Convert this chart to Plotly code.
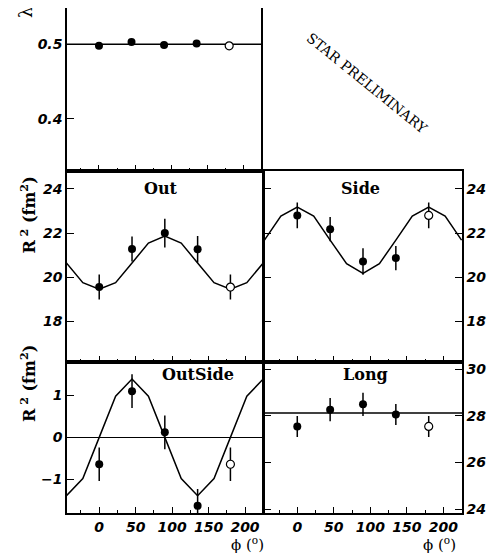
import plotly.graph_objects as go

# ---- data ----
phi = [0, 45, 90, 135]
phi_open = [180]

lam_vals = [0.498, 0.503, 0.499, 0.501]
lam_err = [0.002, 0.002, 0.002, 0.002]
lam_open = [0.498]
lam_open_err = [0.002]
lam_fit_x = [-45, 225]
lam_fit_y = [0.500, 0.500]

out_vals = [19.56, 21.28, 22.0, 21.27]
out_err = [0.57, 0.57, 0.65, 0.6]
out_open = [19.56]
out_open_err = [0.57]

side_vals = [22.8, 22.18, 20.72, 20.87]
side_err = [0.58, 0.55, 0.6, 0.55]
side_open = [22.8]
side_open_err = [0.58]

os_vals = [-0.64, 1.1, 0.12, -1.63]
os_err = [0.4, 0.4, 0.4, 0.4]
os_open = [-0.64]
os_open_err = [0.4]

long_vals = [27.55, 28.27, 28.5, 28.06]
long_err = [0.45, 0.5, 0.5, 0.45]
long_open = [27.55]
long_open_err = [0.45]
long_fit_x = [-50, 230]
long_fit_y = [28.13, 28.13]

fit_phi = [-45, -22.5, 0, 22.5, 45, 67.5, 90, 112.5, 135, 157.5, 180, 202.5, 225]
out_fit = [20.65, 19.76, 19.46, 19.76, 20.65, 21.55, 21.87, 21.55, 20.65, 19.76, 19.46, 19.76, 20.65]
side_fit = [21.68, 22.77, 23.18, 22.77, 21.68, 20.62, 20.18, 20.62, 21.68, 22.77, 23.18, 22.77, 21.68]
os_fit = [-1.39, -0.98, 0.0, 0.98, 1.39, 0.98, 0.0, -0.98, -1.39, -0.98, 0.0, 0.98, 1.39]

x_ticks = [0, 50, 100, 150, 200]

fig = go.Figure()

def add_panel(n, vals, err, oval, oerr, fx, fy):
    xa = "x" if n == 1 else f"x{n}"
    ya = "y" if n == 1 else f"y{n}"
    fig.add_trace(go.Scatter(x=fx, y=fy, mode="lines", xaxis=xa, yaxis=ya,
                             line=dict(color="black", width=1.5), showlegend=False,
                             hoverinfo="skip"))
    fig.add_trace(go.Scatter(x=phi, y=vals, mode="markers", xaxis=xa, yaxis=ya,
                             marker=dict(color="black", size=8),
                             error_y=dict(type="data", array=err, color="black",
                                          thickness=1.5, width=0),
                             showlegend=False))
    fig.add_trace(go.Scatter(x=phi_open, y=oval, mode="markers", xaxis=xa, yaxis=ya,
                             marker=dict(color="white", size=8,
                                         line=dict(color="black", width=1.2)),
                             error_y=dict(type="data", array=oerr, color="black",
                                          thickness=1.5, width=0),
                             showlegend=False))

add_panel(1, lam_vals, lam_err, lam_open, lam_open_err, lam_fit_x, lam_fit_y)
add_panel(2, out_vals, out_err, out_open, out_open_err, fit_phi, out_fit)
add_panel(3, side_vals, side_err, side_open, side_open_err, fit_phi, side_fit)
add_panel(4, os_vals, os_err, os_open, os_open_err, fit_phi, os_fit)
add_panel(5, long_vals, long_err, long_open, long_open_err, long_fit_x, long_fit_y)

tickfont = dict(family="DejaVu Sans", size=14, color="black", weight="bold", style="italic")

def xaxis(domain, rng, labels, anchor, mirror=True):
    return dict(domain=domain, range=rng, anchor=anchor, showline=True, linecolor="black",
                linewidth=1.5, mirror=mirror, ticks="inside", tickvals=x_ticks, ticklen=6,
                tickwidth=1.2, tickcolor="black", showticklabels=labels, tickfont=tickfont,
                showgrid=False, zeroline=False,
                minor=dict(ticks="inside", dtick=25, tick0=0, ticklen=3, tickwidth=1.2,
                           tickcolor="black", showgrid=False))

def yaxis(domain, rng, dtick, side, mirror, anchor):
    return dict(domain=domain, range=rng, dtick=dtick, side=side, anchor=anchor,
                showline=True, linecolor="black", linewidth=1.5, mirror=mirror,
                ticks="inside", ticklen=7, tickwidth=1.2, tickcolor="black",
                tickfont=tickfont, showgrid=False, zeroline=False)

L = [0, 0.4962]
R = [0.4987, 1]
TOP = [0.6772, 1]
MID = [0.3, 0.6772]
BOT = [0, 0.3]
xl = [-44.2, 224.7]
xr = [-45.6, 225.6]

fig.update_layout(
    width=491, height=546,
    margin=dict(l=59, r=37, t=0, b=41),
    paper_bgcolor="white", plot_bgcolor="white",
    xaxis=xaxis([0, 0.4924], xl, False, "y", mirror=False),
    yaxis=yaxis(TOP, [0.3297, 0.5488], 0.1, "left", True, "x"),
    xaxis2=xaxis(L, xl, False, "y2"),
    yaxis2=yaxis(MID, [16.19, 24.81], 2, "left", True, "x2"),
    xaxis3=xaxis(R, xr, False, "y3"),
    yaxis3=yaxis(MID, [16.19, 24.81], 2, "right", "ticks", "x3"),
    xaxis4=xaxis(L, xl, True, "y4"),
    yaxis4=yaxis(BOT, [-1.8, 1.806], 1, "left", True, "x4"),
    xaxis5=xaxis(R, xr, True, "y5"),
    yaxis5=yaxis(BOT, [23.83, 30.34], 2, "right", "ticks", "x5"),
)
fig.layout.yaxis4.zeroline = True
fig.layout.yaxis4.zerolinecolor = "black"
fig.layout.yaxis4.zerolinewidth = 1.2

serif_b = dict(family="DejaVu Serif", size=16, color="black", weight="bold")
serif = dict(family="DejaVu Serif", size=18, color="black")
phi_font = dict(family="DejaVu Serif", size=15, color="black")

ann = [
    dict(text="λ", x=-0.1063, y=0.99, textangle=-90, font=serif),
    dict(text="R<sup> 2</sup> (fm<sup>2</sup>)", x=-0.0987, y=0.589, textangle=-90, font=serif_b),
    dict(text="R<sup> 2</sup> (fm<sup>2</sup>)", x=-0.0987, y=0.2554, textangle=-90, font=serif_b),
    dict(text="Out", x=0.238, y=0.6416, font=serif_b),
    dict(text="Side", x=0.744, y=0.6416, font=serif_b),
    dict(text="OutSide", x=0.3316, y=0.2733, font=serif_b),
    dict(text="Long", x=0.7557, y=0.2752, font=serif_b),
    dict(text="ϕ (<sup>o</sup>)", x=0.4582, y=-0.0614, font=phi_font),
    dict(text="ϕ (<sup>o</sup>)", x=0.9418, y=-0.0614, font=phi_font),
    dict(text="STAR PRELIMINARY", x=0.7595, y=0.8515, textangle=39,
         font=dict(family="DejaVu Serif", size=14, color="black")),
]
for a in ann:
    a.update(xref="paper", yref="paper", showarrow=False, xanchor="center", yanchor="middle")
fig.update_layout(annotations=ann)

fig.write_html("out.html")
